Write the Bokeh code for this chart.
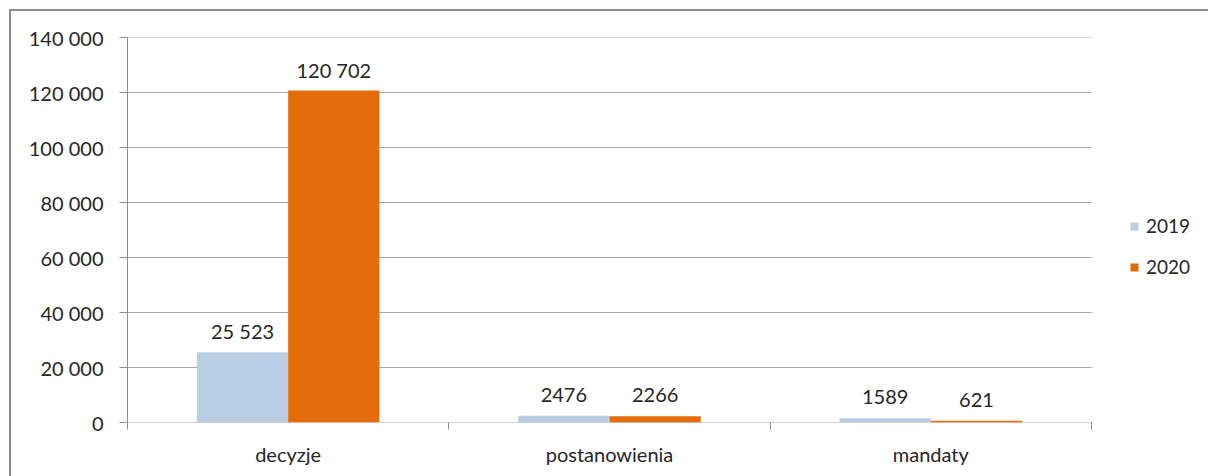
from bokeh.plotting import figure
from bokeh.models import ColumnDataSource, Range1d, FixedTicker, Legend, LegendItem
from bokeh.core.properties import value
from bokeh.embed import file_html
from bokeh.resources import INLINE

categories = ["decyzje", "postanowienia", "mandaty"]
series_names = ["2019", "2020"]
values_2019 = [25523, 2476, 1589]
values_2020 = [120702, 2266, 621]
y_ticks = [0, 20000, 40000, 60000, 80000, 100000, 120000, 140000]
y_tick_labels = ["0", "20 000", "40 000", "60 000", "80 000", "100 000", "120 000", "140 000"]
colors = ["#B9CDE5", "#E46C0A"]

FONT = "Lato"
TEXT_COLOR = "#262626"
GRID = "#a6a6a6"
AXIS = "#8c8c8c"

def fmt(v):
    return f"{v:,}".replace(",", " ") if v >= 10000 else str(v)

# plot frame: x 127..1091 holds the 3 categories, frame extended to the right for the legend
n = len(categories)
x_end = n * (1208 - 127) / (1091 - 127)
p = figure(width=1208, height=476, output_backend="svg", toolbar_location=None,
           x_range=Range1d(0, x_end), y_range=Range1d(0, 140000),
           min_border_left=127, min_border_top=37, min_border_right=0, min_border_bottom=54)
# chart border (left and top edges) drawn behind a transparent canvas border
p.styles = {"box-shadow": f"inset 9px 9px 0px 0px #ffffff, inset 11px 11px 0px 0px {AXIS}",
            "background": "#ffffff"}
p.outline_line_color = None
p.background_fill_color = "white"
p.border_fill_alpha = 0

# horizontal gridlines across the category area only
p.segment(x0=[0] * len(y_ticks), x1=[n] * len(y_ticks), y0=y_ticks, y1=y_ticks,
          line_color=GRID, line_width=1)

bar_w = 0.284
centers = [i + 0.5 for i in range(n)]
renderers = []
for k, (vals, col) in enumerate(zip([values_2019, values_2020], colors)):
    xs = [c + (k - 0.5) * bar_w for c in centers]
    src = ColumnDataSource(dict(x=xs, top=vals, lab=[fmt(v) for v in vals]))
    r = p.vbar(x="x", top="top", width=bar_w, bottom=0, source=src, fill_color=col, line_color=None)
    renderers.append(r)
    p.text(x="x", y="top", text="lab", source=src, text_align="center", text_baseline="alphabetic",
           y_offset=-21, text_font=value(FONT), text_font_size="20px", text_color=TEXT_COLOR)

# x axis
p.xaxis.ticker = FixedTicker(ticks=centers, minor_ticks=list(range(n + 1)))
p.xaxis.major_label_overrides = {c: name for c, name in zip(centers, categories)}
p.xaxis.major_tick_line_color = None
p.xaxis.major_tick_out = 7
p.xaxis.major_tick_in = 0
p.xaxis.minor_tick_out = 7
p.xaxis.minor_tick_in = 0
p.xaxis.minor_tick_line_color = AXIS
p.xaxis.axis_line_color = None
p.xaxis.major_label_standoff = 12
p.xaxis.major_label_text_font = FONT
p.xaxis.major_label_text_font_size = "20px"
p.xaxis.major_label_text_color = TEXT_COLOR
p.xgrid.grid_line_color = None

# y axis
p.yaxis.ticker = FixedTicker(ticks=y_ticks, minor_ticks=[])
p.yaxis.major_label_overrides = {t: l for t, l in zip(y_ticks, y_tick_labels)}
p.yaxis.major_tick_out = 8
p.yaxis.major_tick_in = 0
p.yaxis.major_tick_line_color = AXIS
p.yaxis.axis_line_color = AXIS
p.yaxis.minor_tick_line_color = None
p.yaxis.major_label_standoff = 16
p.yaxis.major_label_text_font = FONT
p.yaxis.major_label_text_font_size = "20px"
p.yaxis.major_label_text_color = TEXT_COLOR
p.ygrid.grid_line_color = None

legend = Legend(items=[LegendItem(label=nm, renderers=[r]) for nm, r in zip(series_names, renderers)],
                location=(1002, 144), orientation="vertical")
legend.border_line_color = None
legend.background_fill_alpha = 0
legend.glyph_width = 10
legend.glyph_height = 10
legend.label_height = 20
legend.spacing = 18
legend.padding = 0
legend.margin = 0
legend.label_standoff = 7
legend.label_text_font = FONT
legend.label_text_font_size = "19px"
legend.label_text_color = TEXT_COLOR
p.add_layout(legend, "center")

open("out.html", "w").write(file_html(p, INLINE))
